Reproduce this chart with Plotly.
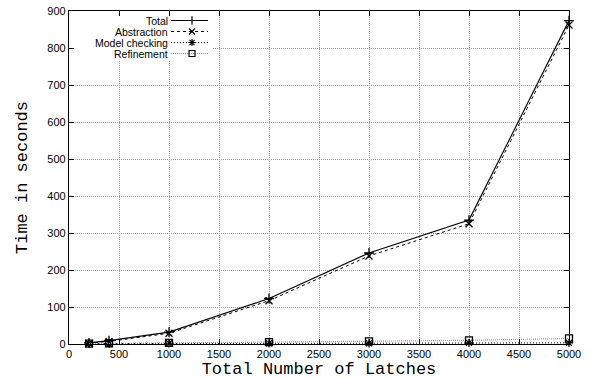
import plotly.graph_objects as go

latches = [200, 400, 1000, 2000, 3000, 4000, 5000]
total = [3, 9, 32, 123, 246, 335, 874]
abstraction = [2, 7, 29, 117, 238, 325, 862]
model_checking = [1, 1, 2, 2, 2, 3, 3]
refinement = [1, 2, 3, 5, 7, 10, 15]

series = [
    ("Total", total, "solid", "cross-thin", "black", 1.2),
    ("Abstraction", abstraction, "3px,3px", "x-thin", "black", 1.0),
    ("Model checking", model_checking, "1px,2px", "asterisk", "black", 1.0),
    ("Refinement", refinement, "1px,1px", "square-open", "#999999", 1.2),
]

XMAX, YMAX = 5000, 900
L, R, T, B = 69, 569, 11, 344


def px2x(px):
    return (px - L) / (R - L) * XMAX


def py2y(py):
    return (B - py) / (B - T) * YMAX


fig = go.Figure()
for name, ys, dash, sym, col, w in series:
    fig.add_trace(go.Scatter(
        x=latches, y=ys, mode="lines+markers", name=name, showlegend=False,
        line=dict(color=col, width=w, dash=dash),
        marker=dict(symbol=sym, size=7, color="black",
                    line=dict(color="black", width=1.3)),
        cliponaxis=False,
    ))

# manual gnuplot-style key (text right, sample left)
row_py = [20.5, 31.5, 42.5, 53.5]
for (name, ys, dash, sym, col, w), py in zip(series, row_py):
    fy = py2y(py)
    fig.add_trace(go.Scatter(
        x=[px2x(171), px2x(208)], y=[fy, fy], mode="lines",
        line=dict(color=col, width=w, dash=dash), showlegend=False, hoverinfo="skip"))
    fig.add_trace(go.Scatter(
        x=[px2x(192)], y=[fy], mode="markers",
        marker=dict(symbol=sym, size=6, color="black", line=dict(color="black", width=1.2)),
        showlegend=False, hoverinfo="skip"))
    fig.add_annotation(x=px2x(169), y=fy, text=name, showarrow=False,
                       xanchor="right", yanchor="middle", borderpad=0,
                       font=dict(family="Liberation Sans, Arial", size=10.5, color="black"))

fig.add_shape(type="rect", xref="x", yref="y",
              x0=px2x(70), x1=px2x(213), y0=py2y(60), y1=py2y(12),
              fillcolor="white", line=dict(width=0), layer="between")

axis_common = dict(
    showline=True, linecolor="black", linewidth=1.2, mirror="allticks",
    ticks="inside", ticklen=5, tickcolor="black", tickwidth=1,
    showgrid=True, gridcolor="#9a9a9a", griddash="1px,1px", gridwidth=1,
    zeroline=False, automargin=False,
    tickfont=dict(family="Liberation Sans, Arial", size=11, color="black"),
)

fig.update_layout(
    width=590, height=379,
    margin=dict(l=L, r=590 - R, t=T, b=379 - B),
    paper_bgcolor="white", plot_bgcolor="white",
    showlegend=False,
    xaxis=dict(range=[0, XMAX], dtick=500, tick0=0,
               title=dict(text="Total Number of Latches",
                          font=dict(family="Liberation Mono, Courier New", size=17, color="black")),
               **axis_common),
    yaxis=dict(range=[0, YMAX], dtick=100, tick0=0,
               title=dict(text="Time in seconds",
                          font=dict(family="Liberation Mono, Courier New", size=17, color="black")),
               **axis_common),
)

fig.write_html("out.html", config={"displayModeBar": False},
               post_script="document.body.style.margin='0';")
